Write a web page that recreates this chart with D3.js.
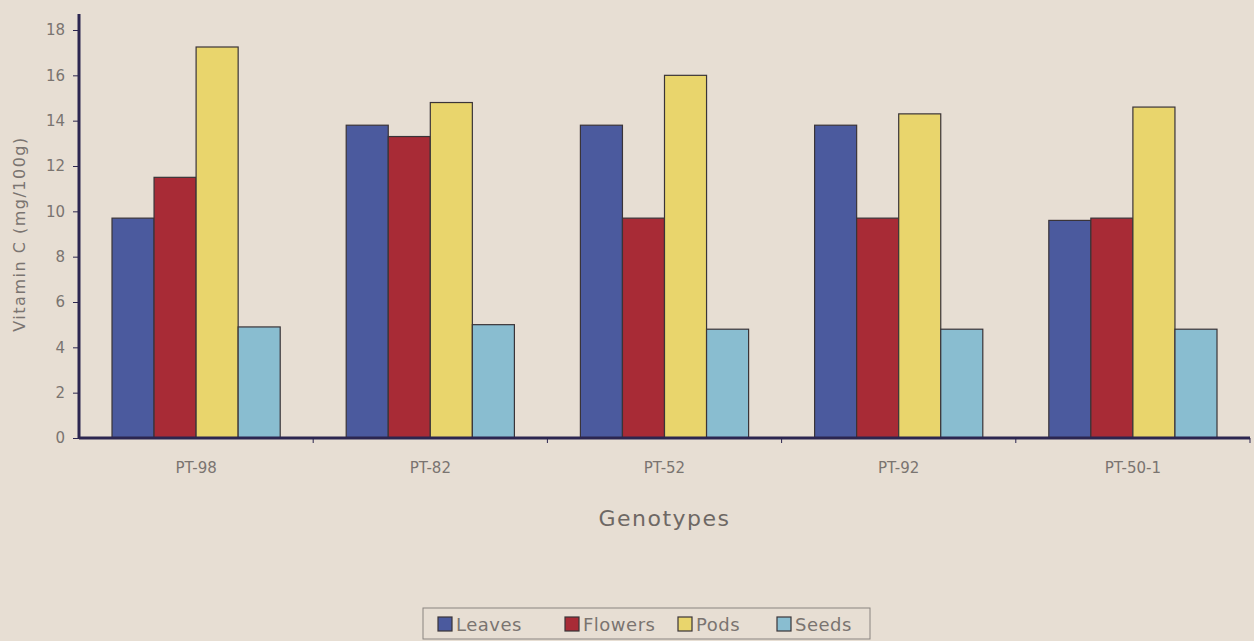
<!DOCTYPE html>
<html>
<head>
<meta charset="utf-8">
<script src="https://cdn.jsdelivr.net/npm/d3@7"></script>
<style>
  body { margin: 0; background: #e7ded3; }
  svg { display: block; }
</style>
</head>
<body>
<svg id="chart"></svg>
<script>
const svg_width = 1254;
const svg_height = 641;

// data
const genotypes = ['PT-98', 'PT-82', 'PT-52', 'PT-92', 'PT-50-1'];
const parts = ['Leaves', 'Flowers', 'Pods', 'Seeds'];
const leaves = [9.7, 13.8, 13.8, 13.8, 9.6];
const flowers = [11.5, 13.3, 9.7, 9.7, 9.7];
const pods = [17.25, 14.8, 16.0, 14.3, 14.6];
const seeds = [4.9, 5.0, 4.8, 4.8, 4.8];
const yTicks = [0, 2, 4, 6, 8, 10, 12, 14, 16, 18];
const colors = ['#4b5a9e', '#a82b36', '#e9d56c', '#89bdd0'];

const series = [leaves, flowers, pods, seeds];

const margin = {top: 30, right: 4, bottom: 203, left: 79};
const innerWidth = svg_width - margin.left - margin.right;
const innerHeight = svg_height - margin.top - margin.bottom;

const svg = d3.select('#chart')
  .attr('width', svg_width)
  .attr('height', svg_height);

svg.append('rect').attr('width', svg_width).attr('height', svg_height).attr('fill', '#e7ded3');

const g = svg.append('g').attr('transform', `translate(${margin.left}, ${margin.top})`);

const x0 = d3.scaleBand().domain(genotypes).range([0, innerWidth]).paddingInner(0).paddingOuter(0);
const x1 = d3.scaleBand().domain(parts).range([33, x0.bandwidth() - 33]).padding(0);
const y = d3.scaleLinear().domain([0, 18]).range([innerHeight, 0]);

const font = "'DejaVu Sans', sans-serif";
const textColor = '#7a7470';

// bars
genotypes.forEach((gt, i) => {
  const grp = g.append('g').attr('transform', `translate(${x0(gt)},0)`);
  parts.forEach((p, j) => {
    const v = series[j][i];
    grp.append('rect')
      .attr('x', x1(p))
      .attr('y', y(v))
      .attr('width', x1.bandwidth())
      .attr('height', y(0) - y(v))
      .attr('fill', colors[j])
      .attr('stroke', '#3a3438')
      .attr('stroke-width', 1.2);
  });
});

// y axis
const yAxis = g.append('g').call(d3.axisLeft(y).tickValues(yTicks).tickSize(6).tickPadding(8));
yAxis.select('.domain').remove();
yAxis.selectAll('line').attr('stroke', '#2c2650').attr('stroke-width', 1);
yAxis.selectAll('text').attr('fill', textColor).attr('font-size', '15px').attr('font-family', font);

g.append('line')
  .attr('x1', 0).attr('x2', 0)
  .attr('y1', y(0)).attr('y2', y(18) - 16)
  .attr('stroke', '#2c2650').attr('stroke-width', 3);

// x axis
const xAxis = g.append('g').attr('transform', `translate(0,${innerHeight})`)
  .call(d3.axisBottom(x0).tickSize(0).tickPadding(24));
xAxis.select('.domain').remove();
xAxis.selectAll('text').attr('fill', textColor).attr('font-size', '15px').attr('font-family', font);

g.append('line')
  .attr('x1', 0).attr('x2', innerWidth)
  .attr('y1', y(0)).attr('y2', y(0))
  .attr('stroke', '#2c2650').attr('stroke-width', 3);

// category separator ticks
g.selectAll('.sep').data(genotypes.slice(1).concat(['end']))
  .enter().append('line')
  .attr('class', 'sep')
  .attr('x1', (d, i) => x0.bandwidth() * (i + 1))
  .attr('x2', (d, i) => x0.bandwidth() * (i + 1))
  .attr('y1', y(0)).attr('y2', y(0) + 5)
  .attr('stroke', '#2c2650').attr('stroke-width', 1);

// axis titles
svg.append('text')
  .text('Genotypes')
  .attr('x', margin.left + innerWidth / 2)
  .attr('y', 526)
  .attr('text-anchor', 'middle')
  .attr('fill', '#6e6864')
  .attr('font-size', '22px')
  .attr('letter-spacing', '1.5px')
  .attr('font-family', font);

svg.append('text')
  .text('Vitamin C (mg/100g)')
  .attr('transform', `translate(25, ${margin.top + y(9)}) rotate(-90)`)
  .attr('text-anchor', 'middle')
  .attr('fill', textColor)
  .attr('font-size', '16px')
  .attr('letter-spacing', '1.5px')
  .attr('font-family', font);

// legend
const legend = svg.append('g').attr('transform', 'translate(423, 608)');
legend.append('rect')
  .attr('width', 447).attr('height', 31)
  .attr('fill', 'none').attr('stroke', '#8a8480').attr('stroke-width', 1);

const legendX = [15, 142, 255, 354];
parts.forEach((p, j) => {
  const item = legend.append('g').attr('transform', `translate(${legendX[j]}, 0)`);
  item.append('rect')
    .attr('x', 0).attr('y', 9)
    .attr('width', 14).attr('height', 14)
    .attr('fill', colors[j])
    .attr('stroke', '#3a3438').attr('stroke-width', 1.2);
  item.append('text')
    .text(p)
    .attr('x', 18).attr('y', 23)
    .attr('fill', textColor)
    .attr('font-size', '18px')
    .attr('letter-spacing', '0.5px')
    .attr('font-family', font);
});
</script>
</body>
</html>
